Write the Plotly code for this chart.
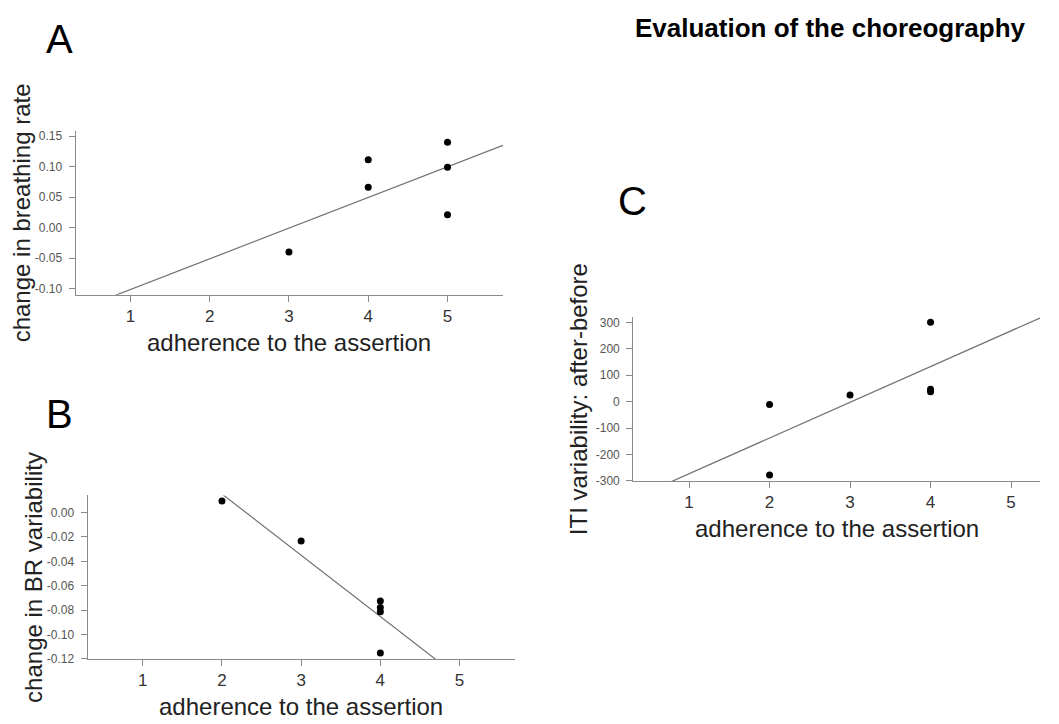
import numpy as np
import plotly.graph_objects as go

# ---------------- data ----------------
a_x = [3, 4, 4, 5, 5, 5]
a_y = [-0.040, 0.111, 0.066, 0.140, 0.099, 0.021]

b_x = [2, 3, 4, 4, 4, 4]
b_y = [0.0094, -0.0233, -0.0725, -0.0778, -0.0814, -0.1151]

c_x = [2, 2, 3, 4, 4, 4]
c_y = [-11, -278, 25, 300, 47, 37]

x_ticks = [1, 2, 3, 4, 5]
x_ticktext = ["1", "2", "3", "4", "5"]
a_yticks = [-0.10, -0.05, 0.00, 0.05, 0.10, 0.15]
a_yticktext = ["-0.10", "-0.05", "0.00", "0.05", "0.10", "0.15"]
b_yticks = [-0.12, -0.10, -0.08, -0.06, -0.04, -0.02, 0.00]
b_yticktext = ["-0.12", "-0.10", "-0.08", "-0.06", "-0.04", "-0.02", "0.00"]
c_yticks = [-300, -200, -100, 0, 100, 200, 300]
c_yticktext = ["-300", "-200", "-100", "0", "100", "200", "300"]

title_text = "Evaluation of the choreography"
x_title = "adherence to the assertion"
a_ytitle = "change in breathing rate"
b_ytitle = "change in BR variability"
c_ytitle = "ITI variability: after-before"

# ---------------- layout helpers ----------------
W, H = 1059, 724
FONT = "Liberation Sans, Arial, Helvetica, sans-serif"


def px(x):
    return x / W


def py(y):
    return 1 - y / H


panels = {
    "A": dict(box=(75.7, 503, 131, 297), xr=[0.31, 5.70], yr=[-0.110, 0.159],
              xs=a_x, ys=a_y, yt=a_yticks, ytt=a_yticktext, ytitle=a_ytitle,
              letter=(59, 38.5)),
    "B": dict(box=(87.7, 515, 500, 665.3), xr=[0.305, 5.70], yr=[-0.120, 0.014],
              xs=b_x, ys=b_y, yt=b_yticks, ytt=b_yticktext, ytitle=b_ytitle,
              letter=(59.5, 418)),
    "C": dict(box=(633.3, 1040, 319.3, 485.3), xr=[0.307, 5.36], yr=[-300, 321],
              xs=c_x, ys=c_y, yt=c_yticks, ytt=c_yticktext, ytitle=c_ytitle,
              letter=(632, 202.5)),
}

fig = go.Figure()
annotations = []
AX = "#8a8a8a"

for i, (name, p) in enumerate(panels.items(), start=1):
    sfx = "" if i == 1 else str(i)
    x0, x1, yt, yb = p["box"]
    xaxis_name = "xaxis" + sfx
    yaxis_name = "yaxis" + sfx

    # least-squares regression line across the axis range (clipped by the axes)
    slope, intercept = np.polyfit(p["xs"], p["ys"], 1)
    lx = np.array(p["xr"])
    ly = slope * lx + intercept
    fig.add_trace(go.Scatter(x=lx, y=ly, mode="lines",
                             line=dict(color="#707070", width=1.2),
                             xaxis="x" + sfx, yaxis="y" + sfx,
                             showlegend=False, hoverinfo="skip"))
    fig.add_trace(go.Scatter(x=p["xs"], y=p["ys"], mode="markers",
                             marker=dict(color="black", size=7),
                             xaxis="x" + sfx, yaxis="y" + sfx,
                             showlegend=False, cliponaxis=False))

    fig.layout[xaxis_name] = dict(
        domain=[px(x0), px(x1)], anchor="y" + sfx, range=p["xr"],
        showline=True, linecolor=AX, linewidth=1.3,
        ticks="outside", ticklen=6, tickcolor=AX, tickwidth=1.3,
        tickvals=x_ticks, ticktext=x_ticktext,
        tickfont=dict(family=FONT, size=17, color="#333333"),
        showgrid=False, zeroline=False, fixedrange=True,
    )
    fig.layout[yaxis_name] = dict(
        domain=[py(yb), py(yt)], anchor="x" + sfx, range=p["yr"],
        showline=True, linecolor=AX, linewidth=1.3,
        ticks="outside", ticklen=6, tickcolor=AX, tickwidth=1.3,
        tickvals=p["yt"], ticktext=p["ytt"],
        tickfont=dict(family=FONT, size=12, color="#555555"),
        ticklabelstandoff=4,
        showgrid=False, zeroline=False, fixedrange=True,
    )

    annotations.append(dict(text=x_title, x=px((x0 + x1) / 2), y=py(yb + 48),
                            xref="paper", yref="paper", showarrow=False,
                            xanchor="center", yanchor="middle",
                            font=dict(family=FONT, size=24, color="#222222")))
    annotations.append(dict(text=p["ytitle"], x=px(x0 - 54), y=py((yt + yb) / 2),
                            xref="paper", yref="paper", showarrow=False,
                            textangle=-90, xanchor="center", yanchor="middle",
                            font=dict(family=FONT, size=24, color="#222222")))
    lx_, ly_ = p["letter"]
    annotations.append(dict(text=name, x=px(lx_), y=py(ly_),
                            xref="paper", yref="paper", showarrow=False,
                            xanchor="center", yanchor="middle",
                            font=dict(family=FONT, size=40, color="#000000")))

annotations.append(dict(text="<b>" + title_text + "</b>", x=px(830), y=py(27),
                        xref="paper", yref="paper", showarrow=False,
                        xanchor="center", yanchor="middle",
                        font=dict(family=FONT, size=26, color="#000000")))

fig.update_layout(
    width=W, height=H, autosize=False,
    margin=dict(l=0, r=0, t=0, b=0),
    paper_bgcolor="white", plot_bgcolor="white",
    annotations=annotations,
    showlegend=False,
)

fig.write_html("out.html", config={"displayModeBar": False},
               post_script="document.body.style.margin='0';document.body.style.overflow='hidden';")
